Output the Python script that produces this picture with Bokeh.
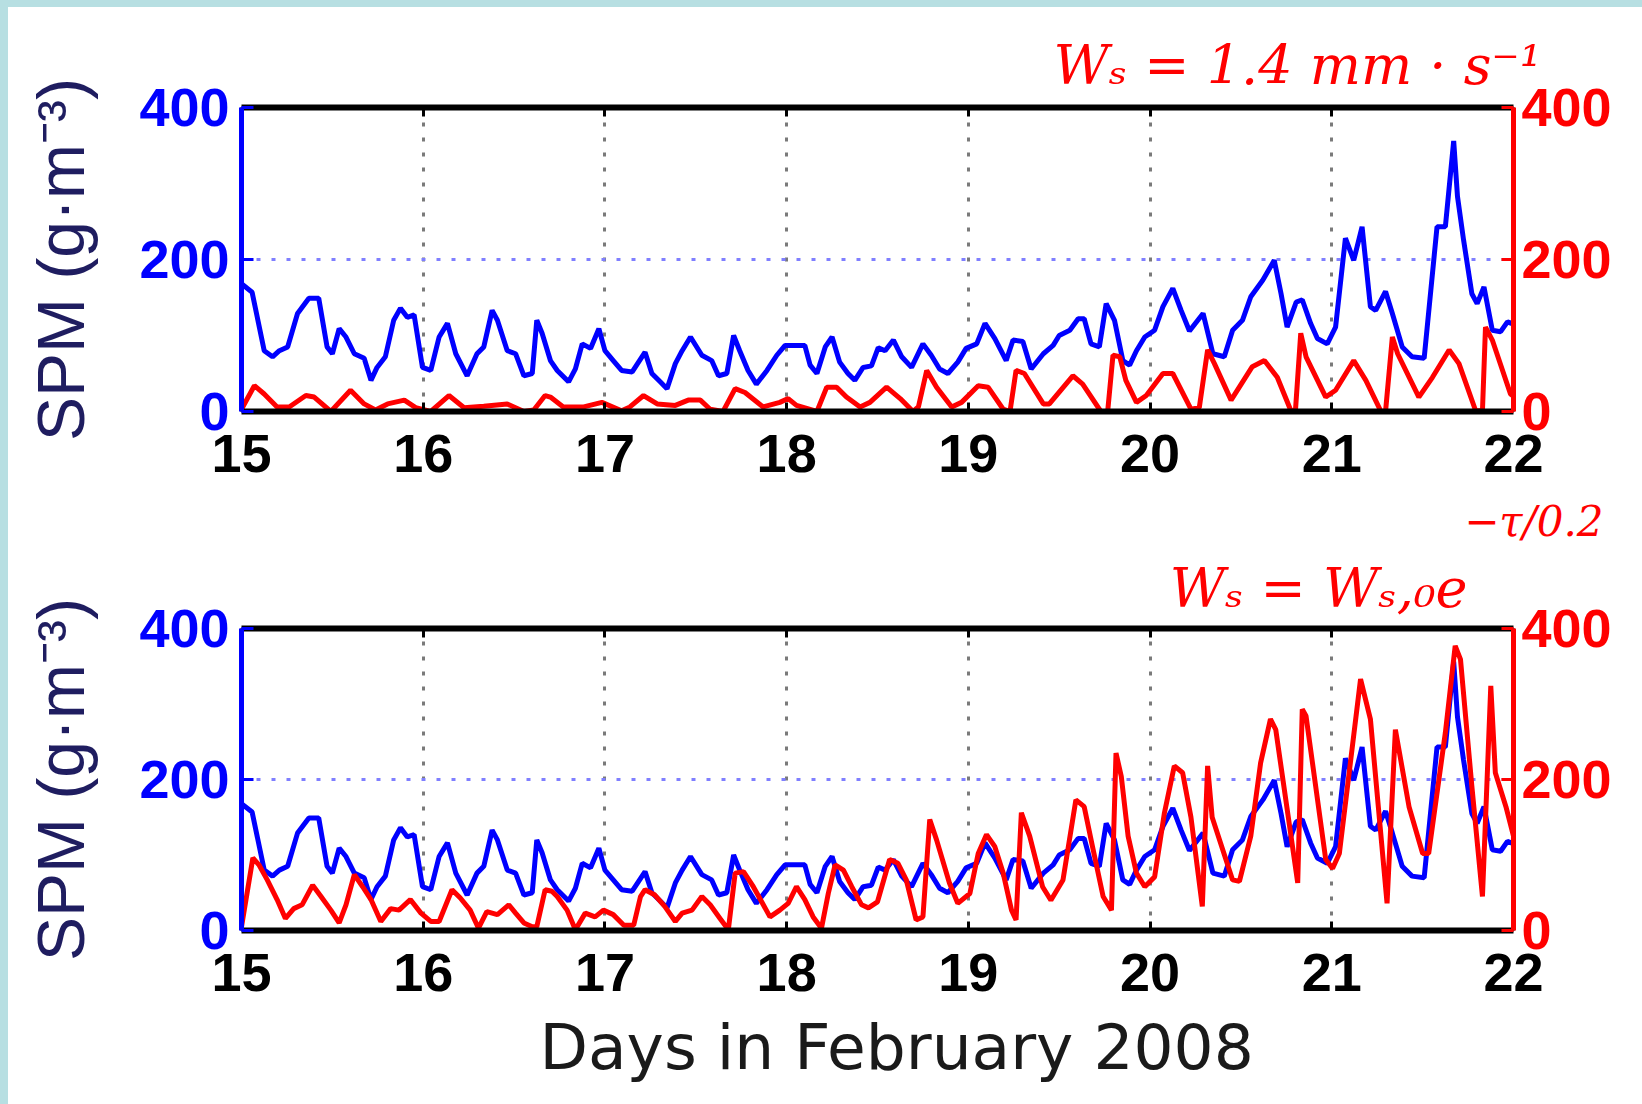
from bokeh.plotting import figure
from bokeh.models import Range1d, LinearAxis, FixedTicker, Title
from bokeh.layouts import column
from bokeh.embed import file_html
from bokeh.resources import INLINE

# Observed SPM (g m^-3): hours after 15 Feb 2008 00:00, and values
obs_hours = [0, 1.4, 3.0, 4.1, 5.0, 6.1, 7.4, 8.9, 10.2, 11.3, 12.0, 12.9, 13.8, 14.9, 16.2,
             17.1, 17.9, 19.0, 20.1, 21.0, 21.9, 22.8, 23.9, 25.0, 26.1, 27.2, 28.3, 29.8,
             31.1, 32.0, 33.1, 33.8, 35.1, 36.2, 37.3, 38.4, 39.0, 39.7, 40.8, 41.7, 43.2,
             44.1, 45.0, 46.1, 47.2, 48.0, 49.1, 50.2, 51.6, 53.3, 54.2, 55.3, 56.2, 57.3,
             58.2, 59.3, 60.8, 62.1, 63.0, 64.1, 65.0, 65.8, 66.9, 68.0, 69.4, 70.7, 71.8,
             74.4, 75.1, 76.0, 77.1, 78.0, 79.0, 80.1, 81.0, 82.1, 83.2, 84.1, 85.0, 86.1,
             87.2, 88.5, 90.0, 91.1, 92.2, 93.3, 94.6, 95.7, 97.1, 98.2, 99.5, 101.0, 101.9,
             103.2, 104.3, 105.9, 107.2, 108.0, 109.4, 110.5, 111.3, 112.2, 113.3, 114.2,
             115.3, 116.4, 117.3, 118.2, 119.3, 120.6, 121.7, 123.0, 124.1, 125.2, 127.0,
             128.3, 129.8, 130.9, 132.2, 133.3, 134.9, 136.4, 137.3, 138.1, 139.3, 140.1,
             141.2, 142.1, 143.4, 144.5, 145.8, 146.9, 148.0, 149.1, 149.8, 151.1, 152.0,
             153.3, 154.6, 156.2, 157.9, 159.0, 160.1, 160.6, 161.4, 162.5, 163.2, 164.1,
             165.2, 166.3, 167.2, 168.0]
obs_spm = [168, 157, 80, 72, 80, 85, 129, 149, 149, 85, 76, 109, 98, 76, 70,
           41, 58, 72, 120, 136, 124, 127, 58, 54, 98, 116, 76, 47,
           76, 85, 133, 120, 80, 76, 47, 50, 120, 103, 67, 54, 39,
           56, 89, 83, 109, 80, 67, 54, 52, 78, 50, 39, 30, 63,
           80, 98, 74, 67, 47, 50, 100, 80, 54, 36, 54, 74, 87,
           87, 61, 50, 85, 98, 65, 50, 41, 58, 60, 84, 80, 94,
           72, 58, 89, 74, 56, 50, 65, 83, 89, 116, 96, 67, 94,
           92, 56, 76, 87, 100, 107, 122, 122, 89, 85, 142,
           120, 67, 61, 80, 98, 107, 138, 162, 133, 106, 129,
           76, 72, 107, 120, 151, 173, 199, 155, 111, 144, 147,
           116, 96, 89, 111, 228, 199, 243, 138, 133, 158, 129,
           85, 72, 70, 243, 243, 356, 283, 226, 155, 142, 164,
           107, 105, 118, 115]

# Model, constant settling velocity Ws = 1.4 mm/s
const_hours = [0, 1.7, 3.0, 4.7, 6.3, 8.5, 9.6, 11.8, 14.4, 16.2, 17.7, 19.3, 21.5, 23.0,
               25.0, 27.4, 29.4, 32.0, 35.1, 37.3, 38.6, 40.1, 40.8, 42.5, 45.2, 47.6, 50.2,
               51.3, 53.1, 54.9, 57.3, 59.0, 60.6, 61.9, 63.6, 65.2, 66.5, 68.9, 71.1, 72.2,
               73.3, 76.0, 77.3, 78.6, 79.9, 81.7, 83.0, 85.2, 87.0, 88.7, 89.4, 90.5, 91.8,
               93.8, 95.1, 97.3, 98.6, 100.6, 101.5, 102.3, 103.4, 105.9, 106.7, 109.8, 111.1,
               113.5, 114.4, 115.1, 116.0, 116.8, 118.2, 119.5, 121.7, 123.0, 125.4, 126.5,
               127.6, 128.5, 130.7, 133.5, 135.1, 136.8, 138.6, 139.2, 139.9, 140.6, 143.2,
               144.5, 146.9, 148.5, 150.5, 151.1, 152.0, 152.7, 155.5, 157.3, 159.5, 160.8,
               163.0, 163.9, 164.3, 165.2, 167.6, 168.0]
const_spm = [3, 34, 23, 6, 6, 21, 19, 0, 28, 10, 2, 10, 15, 5,
             0, 21, 5, 7, 10, 0, 2, 21, 19, 6, 6, 12, 1,
             6, 21, 10, 8, 15, 15, 3, 0, 30, 25, 6, 12, 17,
             8, 0, 32, 32, 19, 6, 12, 32, 17, 0, 6, 54, 32,
             6, 12, 34, 32, 3, 0, 54, 50, 10, 10, 47, 36,
             0, 0, 74, 72, 41, 12, 21, 50, 50, 3, 5,
             81, 63, 15, 59, 67, 45, 1, 1, 103, 72, 19,
             28, 67, 41, 0, 0, 98, 76, 19, 45, 81, 63,
             1, 1, 111, 94, 23, 20]

# Model, stress-dependent settling velocity Ws = Ws,0 exp(-tau/0.2)
exp_hours = [0, 1.5, 2.3, 3.4, 4.7, 5.8, 6.9, 8.0, 9.4, 10.5, 11.8, 12.9, 13.8, 14.9, 16.0,
             17.1, 18.4, 19.7, 20.8, 22.3, 23.7, 25.0, 26.1, 27.8, 28.9, 30.2, 31.3, 32.4,
             33.8, 35.3, 36.2, 37.3, 38.4, 39.0, 40.1, 41.0, 41.7, 43.0, 44.1, 45.4, 46.7,
             47.8, 49.1, 50.5, 51.8, 52.7, 53.3, 54.6, 55.9, 57.3, 58.2, 59.5, 60.8, 61.9,
             63.2, 64.3, 65.2, 66.3, 67.6, 68.7, 69.8, 71.1, 72.2, 73.3, 74.4, 75.5, 76.6,
             77.5, 78.4, 79.5, 80.6, 81.9, 82.8, 84.0, 85.6, 86.7, 87.8, 89.1, 90.0, 90.9,
             91.8, 93.5, 94.6, 96.2, 97.3, 98.4, 99.5, 100.6, 101.7, 102.3, 103.0, 104.1,
             105.8, 106.9, 108.5, 110.2, 111.3, 112.4, 113.8, 114.9, 115.5, 116.2, 117.1,
             118.2, 119.3, 120.6, 121.9, 123.2, 124.3, 125.4, 126.9, 127.6, 128.2, 130.9,
             131.8, 133.3, 134.6, 135.9, 136.6, 139.5, 140.1, 140.6, 143.2, 144.1, 145.0,
             147.8, 149.1, 151.3, 152.4, 154.2, 156.0, 156.8, 159.0, 160.3, 161.0, 162.5,
             163.9, 165.0, 165.6, 167.0, 168.0]
exp_spm = [5, 96, 87, 67, 41, 16, 29, 34, 60, 45, 27, 10, 34, 74, 58,
           41, 12, 29, 27, 41, 23, 12, 12, 54, 43, 27, 3, 25,
           21, 34, 23, 10, 5, 5, 54, 52, 45, 27, 1, 23, 18,
           27, 21, 7, 7, 45, 54, 47, 32, 12, 23, 27, 45, 34,
           16, 1, 76, 78, 58, 38, 18, 27, 36, 58, 41, 18, 3,
           49, 87, 80, 58, 34, 30, 38, 94, 89, 67, 14, 18, 147,
           120, 63, 36, 49, 102, 127, 111, 76, 27, 14, 156, 125,
           58, 40, 67, 173, 164, 111, 45, 27, 235, 204, 125,
           76, 58, 71, 156, 218, 209, 150, 32, 218, 150, 67,
           65, 125, 222, 280, 266, 63, 293, 284, 94, 82, 102,
           333, 280, 36, 266, 164, 102, 102, 262, 377, 359, 191,
           45, 324, 209, 164, 125]

day_ticks = [15, 16, 17, 18, 19, 20, 21, 22]
inner_days = [16, 17, 18, 19, 20, 21]
spm_ticks = [0, 200, 400]

OBS_BLUE = "#0000ff"
MODEL_RED = "#ff0000"
LABEL_NAVY = "#1f1d60"
TICK_FONT = "Liberation Sans"
MATH_FONT = "DejaVu Serif"


def to_days(hours):
    return [15 + h / 24.0 for h in hours]


def make_panel(height, border_top, border_bottom, model_hours, model_spm):
    p = figure(width=1634, height=height,
               x_range=Range1d(15, 22), y_range=Range1d(0, 400),
               output_backend="svg", toolbar_location=None,
               min_border_left=233, min_border_right=129,
               min_border_top=border_top, min_border_bottom=border_bottom,
               outline_line_color=None,
               background_fill_color="white", border_fill_color="white")
    p.extra_y_ranges = {"model": Range1d(0, 400)}

    # bottom day axis
    xa = p.xaxis[0]
    xa.ticker = FixedTicker(ticks=day_ticks)
    xa.axis_line_color = "black"
    xa.axis_line_width = 6
    xa.major_tick_in = 9
    xa.major_tick_out = 0
    xa.major_tick_line_width = 3
    xa.minor_tick_line_color = None
    xa.major_label_text_font = TICK_FONT
    xa.major_label_text_font_size = "54px"
    xa.major_label_text_font_style = "bold"
    xa.major_label_text_color = "black"
    xa.major_label_standoff = 23

    # top frame edge with inward day ticks, no labels
    top = LinearAxis(ticker=FixedTicker(ticks=day_ticks),
                     axis_line_color="black", axis_line_width=6,
                     major_tick_in=9, major_tick_out=0, major_tick_line_width=3,
                     minor_tick_line_color=None,
                     major_label_text_font_size="0px", major_label_text_color=None,
                     major_label_standoff=0)
    p.add_layout(top, "above")

    # left axis: observations
    ya = p.yaxis[0]
    ya.ticker = FixedTicker(ticks=spm_ticks)
    ya.axis_line_color = OBS_BLUE
    ya.axis_line_width = 5
    ya.major_tick_in = 12
    ya.major_tick_out = 0
    ya.major_tick_line_color = OBS_BLUE
    ya.major_tick_line_width = 3
    ya.minor_tick_line_color = None
    ya.major_label_text_font = TICK_FONT
    ya.major_label_text_font_size = "54px"
    ya.major_label_text_font_style = "bold"
    ya.major_label_text_color = OBS_BLUE
    ya.major_label_standoff = 12
    ya.axis_label = "SPM (g·m⁻³)"
    ya.axis_label_text_font = TICK_FONT
    ya.axis_label_text_font_size = "66px"
    ya.axis_label_text_font_style = "normal"
    ya.axis_label_text_color = LABEL_NAVY
    ya.axis_label_standoff = 38

    # right axis: model
    ra = LinearAxis(y_range_name="model", ticker=FixedTicker(ticks=spm_ticks),
                    axis_line_color=MODEL_RED, axis_line_width=5,
                    major_tick_in=12, major_tick_out=0,
                    major_tick_line_color=MODEL_RED, major_tick_line_width=3,
                    minor_tick_line_color=None,
                    major_label_text_font=TICK_FONT,
                    major_label_text_font_size="54px",
                    major_label_text_font_style="bold",
                    major_label_text_color=MODEL_RED,
                    major_label_standoff=8)
    p.add_layout(ra, "right")

    p.xgrid.ticker = FixedTicker(ticks=inner_days)
    p.xgrid.grid_line_color = "#7a7a7a"
    p.xgrid.grid_line_width = 3
    p.xgrid.grid_line_dash = "4 11"
    p.ygrid.ticker = FixedTicker(ticks=[200])
    p.ygrid.grid_line_color = "#7f7fff"
    p.ygrid.grid_line_width = 3
    p.ygrid.grid_line_dash = "4 11"

    p.line(to_days(obs_hours), obs_spm, line_color=OBS_BLUE, line_width=5)
    p.line(to_days(model_hours), model_spm, y_range_name="model",
           line_color=MODEL_RED, line_width=5)
    return p


def formula(p, text, offset, standoff, size):
    # right-aligned formula line above the frame; positive offset moves it left
    p.add_layout(Title(text=text, align="right", offset=offset, standoff=standoff,
                       text_font=MATH_FONT, text_font_size=size,
                       text_font_style="italic", text_color=MODEL_RED), "above")


p1 = make_panel(486, 100, 82, const_hours, const_spm)
formula(p1, "Wₛ = 1.4 mm · s⁻¹", -28, 22, "54px")

p2 = make_panel(611, 135, 174, exp_hours, exp_spm)
formula(p2, "Wₛ = Wₛ,₀e", 46, 18, "54px")
formula(p2, "−τ/0.2", -90, 0, "42px")

# x label below the lower panel
p2.add_layout(Title(text="Days in February 2008", align="left", offset=298, standoff=31,
                    text_font="DejaVu Sans", text_font_size="63px",
                    text_font_style="normal", text_color="#1a1a1a"), "below")

layout = column(p1, p2, spacing=0)
layout.styles = {"border-left": "8px solid #b7dfe2", "border-top": "7px solid #b7dfe2"}

open("out.html", "w").write(file_html(layout, INLINE))
